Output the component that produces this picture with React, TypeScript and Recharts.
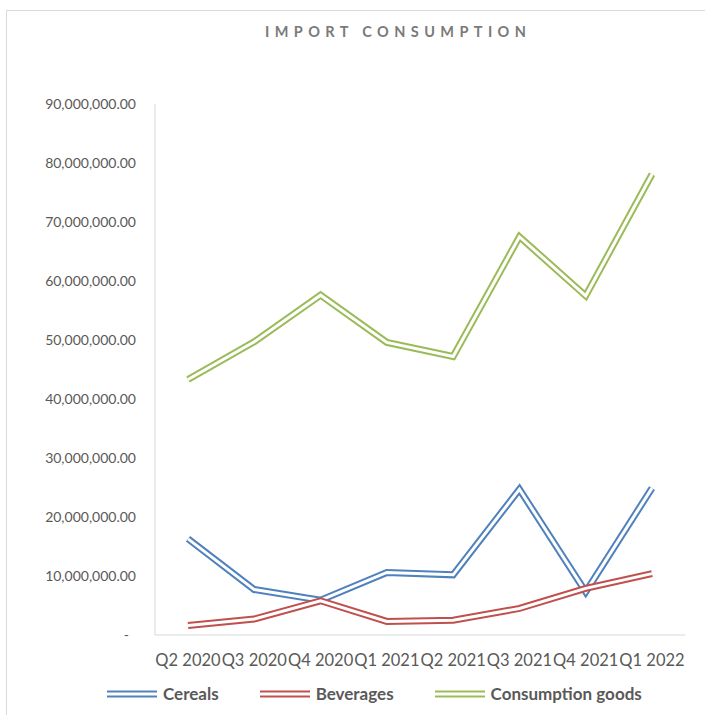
import React from 'react'
import { LineChart, Line, XAxis, YAxis } from 'recharts'

const quarters = ['Q2 2020', 'Q3 2020', 'Q4 2020', 'Q1 2021', 'Q2 2021', 'Q3 2021', 'Q4 2021', 'Q1 2022']
const cereals = [16300000, 7700000, 5900000, 10600000, 10200000, 24700000, 7300000, 24900000]
const beverages = [1600000, 2700000, 5800000, 2300000, 2500000, 4500000, 7900000, 10400000]
const consumptionGoods = [43300000, 49700000, 57600000, 49600000, 47200000, 67500000, 57500000, 78100000]
const yTicks = [0, 10000000, 20000000, 30000000, 40000000, 50000000, 60000000, 70000000, 80000000, 90000000]

const series = [
  { key: 'Cereals', color: '#4f81bd' },
  { key: 'Beverages', color: '#c0504d' },
  { key: 'Consumption goods', color: '#9bbb59' },
]

const data = quarters.map((q, i) => ({
  quarter: q,
  Cereals: cereals[i],
  Beverages: beverages[i],
  'Consumption goods': consumptionGoods[i],
}))

const font = 'Lato, "Open Sans", sans-serif'

const fmtY = (v: number) =>
  v === 0 ? '-\u00a0\u00a0' : v.toLocaleString('en-US', { minimumFractionDigits: 2, maximumFractionDigits: 2 })

function LegendIcon({ color }: { color: string }) {
  return (
    <svg width={50} height={8} style={{ display: 'block' }}>
      <line x1={0} y1={4} x2={50} y2={4} stroke={color} strokeWidth={7} />
      <line x1={0} y1={4} x2={50} y2={4} stroke="#fff" strokeWidth={3} />
    </svg>
  )
}

export default function App() {
  return (
    <div style={{ position: 'absolute', left: 0, top: 0, width: 705, height: 715, background: '#fff', fontFamily: font }}>
      <div style={{ position: 'absolute', left: 6, top: 10, width: 720, height: 720, border: '1px solid #d9d9d9' }} />
      <div
        style={{
          position: 'absolute', left: 265, top: 24, fontSize: 14.5, lineHeight: '16px', fontWeight: 700,
          letterSpacing: 5.4, color: '#7a7a7a', whiteSpace: 'nowrap',
        }}
      >
        IMPORT CONSUMPTION
      </div>
      <div style={{ position: 'absolute', left: 0, top: 0 }}>
        <LineChart width={705} height={715} data={data} margin={{ top: 104, right: 20, bottom: 50, left: 0 }}>
          <XAxis
            dataKey="quarter"
            height={30}
            interval={0}
            padding={{ left: 33, right: 33 }}
            tickLine={false}
            tickSize={0}
            tickMargin={19}
            axisLine={{ stroke: '#d9d9d9' }}
            tick={{ fill: '#595959', fontSize: 16.5, fontFamily: font }}
          />
          <YAxis
            width={155}
            domain={[0, 90000000]}
            ticks={yTicks}
            tickFormatter={fmtY}
            tickLine={false}
            tickSize={0}
            tickMargin={19}
            axisLine={{ stroke: '#d9d9d9' }}
            tick={{ fill: '#595959', fontSize: 14, fontFamily: font }}
          />
          {series.flatMap((s) => [
            <Line
              key={s.key + '-outer'}
              dataKey={s.key}
              stroke={s.color}
              strokeWidth={7}
              strokeLinejoin="miter"
              dot={false}
              activeDot={false}
              isAnimationActive={false}
            />,
            <Line
              key={s.key + '-inner'}
              dataKey={s.key}
              stroke="#ffffff"
              strokeWidth={3}
              strokeLinejoin="miter"
              dot={false}
              activeDot={false}
              isAnimationActive={false}
            />,
          ])}
        </LineChart>
      </div>
      <div style={{ position: 'absolute', left: 107, top: 684, display: 'flex', alignItems: 'center' }}>
        {series.map((s, i) => (
          <div key={s.key} style={{ display: 'flex', alignItems: 'center', marginLeft: i === 0 ? 0 : 41 }}>
            <LegendIcon color={s.color} />
            <span style={{ marginLeft: 6, fontSize: 17, lineHeight: '20px', fontWeight: 700, color: '#595959' }}>{s.key}</span>
          </div>
        ))}
      </div>
    </div>
  )
}
